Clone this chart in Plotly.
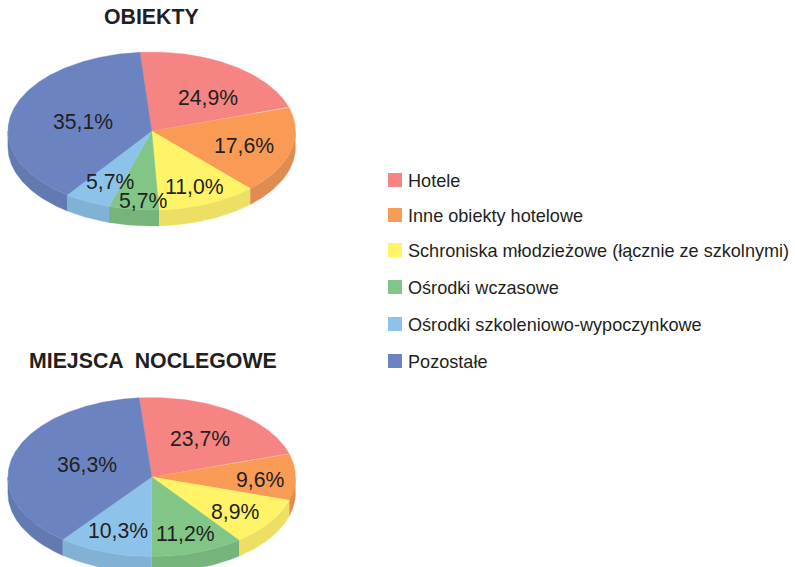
import numpy as np
import plotly.graph_objects as go

categories = ["Hotele", "Inne obiekty hotelowe", "Schroniska młodzieżowe (łącznie ze szkolnymi)",
              "Ośrodki wczasowe", "Ośrodki szkoleniowo-wypoczynkowe", "Pozostałe"]

# Percentages printed on the slices
obiekty_labels = [24.9, 17.6, 11.0, 5.7, 5.7, 35.1]
miejsca_labels = [23.7, 9.6, 8.9, 11.2, 10.3, 36.3]

# Slice sizes as they are actually drawn in the picture (%, measured from the
# wedge boundaries; the source artwork does not follow its printed numbers exactly)
obiekty_drawn = [21.4, 17.9, 11.2, 5.6, 5.2, 38.7]
miejsca_drawn = [21.6, 9.5, 9.9, 10.4, 10.6, 38.0]

top_colors = ["#f58482", "#f99a55", "#fff368", "#82c687", "#8dc3ea", "#6c83c2"]
side_colors = ["#e07a78", "#e08c50", "#ecdf64", "#75b57c", "#81b2d6", "#627aaf"]
TEXT = "#231f20"
FONT = "Liberation Sans, Arial, sans-serif"

# Layout (pixel coordinates of the page)
PIES = [
    dict(title="OBIEKTY", tx=151.5, ty=17, cx=151.7, cy=131, rx=143.8, ry=79, depth=16, start=-4.7,
         drawn=obiekty_drawn, labels=obiekty_labels,
         pos=[(208, 97), (244, 145), (194, 186), (143, 200), (110, 181), (83, 121)]),
    dict(title="MIEJSCA  NOCLEGOWE", tx=152.5, ty=361, cx=151.7, cy=477, rx=143.8, ry=79.5, depth=16, start=-5,
         drawn=miejsca_drawn, labels=miejsca_labels,
         pos=[(199.5, 438), (260, 479), (235, 511), (185, 533), (118, 530), (86.5, 464)]),
]
LEGEND_Y = [181, 216, 251, 288, 325, 362]

fig = go.Figure()
annotations = []


def arc(p, a, b):
    t = np.radians(np.linspace(a, b, max(int(abs(b - a) * 2), 2)))
    return p["cx"] + p["rx"] * np.sin(t), p["cy"] - p["ry"] * np.cos(t)


def poly(x, y, color, name):
    fig.add_trace(go.Scatter(x=list(x), y=list(y), mode="lines", fill="toself", fillcolor=color,
                             line=dict(width=0.4, color=color), hoverinfo="name", name=name, showlegend=False))


for p in PIES:
    edges = p["start"] + np.concatenate([[0], np.cumsum(p["drawn"])]) / sum(p["drawn"]) * 360
    # side walls: only the front half of the rim (90..270 degrees) is visible
    for i, cat in enumerate(categories):
        for shift in (0, -360):
            a, b = max(edges[i] + shift, 90), min(edges[i + 1] + shift, 270)
            if b > a:
                x, y = arc(p, a, b)
                poly(np.r_[x, x[::-1]], np.r_[y, y[::-1] + p["depth"]], side_colors[i], cat)
    # top faces
    for i, cat in enumerate(categories):
        x, y = arc(p, edges[i], edges[i + 1])
        poly(np.r_[p["cx"], x, p["cx"]], np.r_[p["cy"], y, p["cy"]], top_colors[i], cat)
    # value labels
    for v, (lx, ly) in zip(p["labels"], p["pos"]):
        annotations.append(dict(x=lx, y=ly, text=f"{v:.1f}%".replace(".", ","), showarrow=False,
                                font=dict(size=21.2, color=TEXT, family=FONT)))
    annotations.append(dict(x=p["tx"], y=p["ty"], text=f"<b>{p['title']}</b>", showarrow=False,
                            font=dict(size=21.3, color=TEXT, family=FONT)))

# legend
for cat, col, ly in zip(categories, top_colors, LEGEND_Y):
    fig.add_trace(go.Scatter(x=[395], y=[ly - 1], mode="markers", hoverinfo="name", name=cat, showlegend=False,
                             marker=dict(symbol="square", size=14, color=col, line=dict(width=0))))
    annotations.append(dict(x=406, y=ly, text=cat, showarrow=False, xanchor="left",
                            font=dict(size=18.1, color=TEXT, family=FONT)))

fig.update_layout(
    width=795, height=567, margin=dict(l=0, r=0, t=0, b=0),
    paper_bgcolor="white", plot_bgcolor="white", showlegend=False,
    xaxis=dict(range=[0, 795], visible=False, fixedrange=True),
    yaxis=dict(range=[567, 0], visible=False, fixedrange=True),
    annotations=annotations,
)
fig.write_html("out.html", config=dict(displayModeBar=False),
               post_script="document.body.style.margin='0';document.documentElement.style.overflow='hidden';")
